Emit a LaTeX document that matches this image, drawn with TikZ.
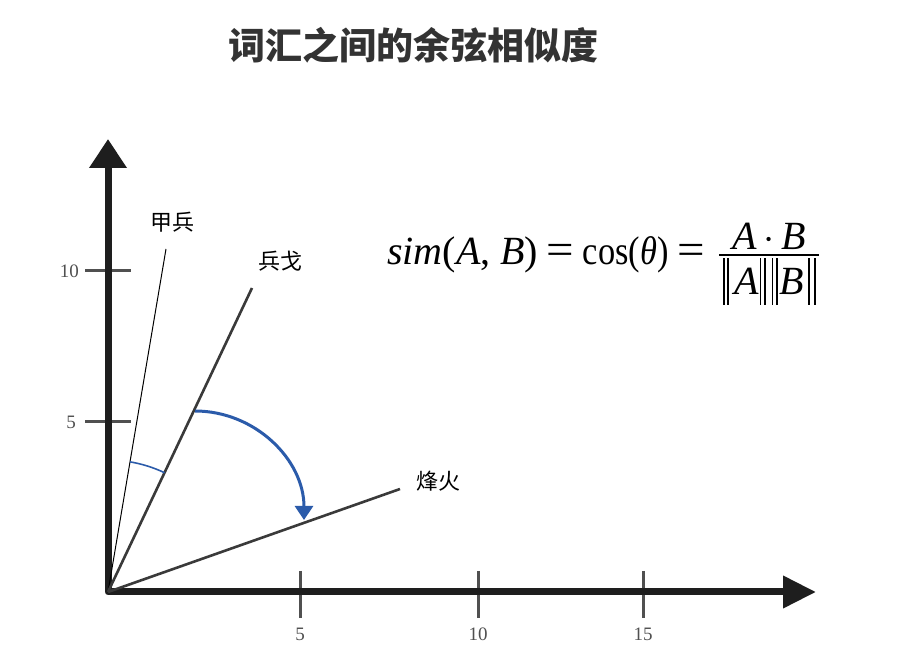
\RequirePackage{fix-cm}
\documentclass[tikz,border=0pt]{standalone}
\usepackage{amsmath}
\usepackage{fontspec}
\setmainfont{Liberation Serif}
\newfontfamily\cjk{Noto Sans CJK SC}
\usetikzlibrary{arrows.meta}
\definecolor{axisc}{HTML}{1E1E1E}
\definecolor{vecc}{HTML}{3A3A3A}
\definecolor{tickc}{HTML}{505050}
\definecolor{arcblue}{HTML}{2B5BAA}
\definecolor{titlec}{HTML}{333333}
\newcommand\mi[1]{\text{\itshape #1}}
\newcommand\bigeq{\text{\scalebox{1.22}[1.1]{=}}}
\newcommand\onebar{\rule[-10pt]{1.8pt}{47pt}}
\newcommand\dbar{\onebar\hspace{2.4pt}\onebar}
\tikzset{
  axis/.style={draw=axisc, line width=7pt, line join=round},
  tickline/.style={draw=tickc, line width=3pt},
  ticklabel/.style={font=\fontsize{19}{21}\selectfont, text=tickc, inner sep=0pt},
  wordlabel/.style={font=\cjk\fontsize{22}{26}\selectfont, inner sep=0pt},
  vecline/.style={draw=vecc, line width=2.6pt},
  thinvec/.style={draw=black, line width=1pt},
  anglearc/.style={draw=arcblue, line width=1.6pt},
  rotarc/.style={draw=arcblue, line width=3pt, -{Triangle[length=14pt,width=18pt]}},
}
\begin{document}
\begin{tikzpicture}[x=1pt,y=1pt]
\useasboundingbox (0,0) rectangle (900,659);
% title
\node[font=\cjk\bfseries\fontsize{37}{40}\selectfont, text=titlec, inner sep=0pt] (title) at (413,614) {词汇之间的余弦相似度};
% coordinates
\coordinate (O) at (108,67);
\coordinate (ytip) at (108,520);
\coordinate (xtip) at (816,67);
\coordinate (vjia) at (166,410);
\coordinate (vbing) at (252,371);
\coordinate (vfeng) at (400,170);
% ticks
\coordinate (yt10a) at (85,388); \coordinate (yt10b) at (131,388);
\coordinate (yt5a) at (85,237); \coordinate (yt5b) at (131,237);
\coordinate (xt5a) at (300,88); \coordinate (xt5b) at (300,41);
\coordinate (xt10a) at (478,88); \coordinate (xt10b) at (478,41);
\coordinate (xt15a) at (643,88); \coordinate (xt15b) at (643,41);
\draw[tickline] (yt10a) -- (yt10b);
\draw[tickline] (yt5a) -- (yt5b);
\draw[tickline] (xt5a) -- (xt5b);
\draw[tickline] (xt10a) -- (xt10b);
\draw[tickline] (xt15a) -- (xt15b);
% axes
\draw[axis, {Triangle[length=29pt,width=36pt]}-{Triangle[length=33pt,width=31pt]}] (ytip) -- (O) -- (xtip);
% tick labels
\node[ticklabel, anchor=east] (l10y) at (79,388) {10};
\node[ticklabel, anchor=east] (l5y) at (76,237) {5};
\node[ticklabel] (l5x) at (300,25) {5};
\node[ticklabel] (l10x) at (478,25) {10};
\node[ticklabel] (l15x) at (643,25) {15};
% vectors
\draw[thinvec] (O) -- (vjia);
\draw[vecline] (O) -- (vbing);
\draw[vecline] (O) -- (vfeng);
% labels
\node[wordlabel] (wjia) at (172,437) {甲兵};
\node[wordlabel] (wbing) at (280,398) {兵戈};
\node[wordlabel] (wfeng) at (438,178) {烽火};
% arcs
\draw[anglearc] (O) ++(80.4:132) arc[start angle=80.4, end angle=64.6, radius=132];
\coordinate (arcS) at (195,248);
\draw[rotarc] (arcS) arc[start angle=90, end angle=0, radius=109];
% formula
\node[anchor=base west, inner sep=0pt, font=\fontsize{40}{48}\selectfont] (formula) at (387,394)
  {$\mi{sim}\text{(}\mi{A}\text{, }\mi{B}\text{)}\hspace{8pt}\bigeq\hspace{9pt}\text{\scalebox{0.86}[1]{cos(\itshape θ\upshape)}}\hspace{9pt}\bigeq\hspace{13pt}\genfrac{}{}{1.8pt}{1}{\textstyle\mi{A}\mkern3mu{\cdot}\mkern3mu\mi{B}}{\textstyle\hspace{4pt}\dbar\hspace{5pt}\mi{A}\hspace{1pt}\dbar\hspace{6pt}\dbar\hspace{2pt}\mi{B}\hspace{4pt}\onebar\hspace{4pt}\onebar\hspace{3pt}}$};
\end{tikzpicture}
\end{document}
